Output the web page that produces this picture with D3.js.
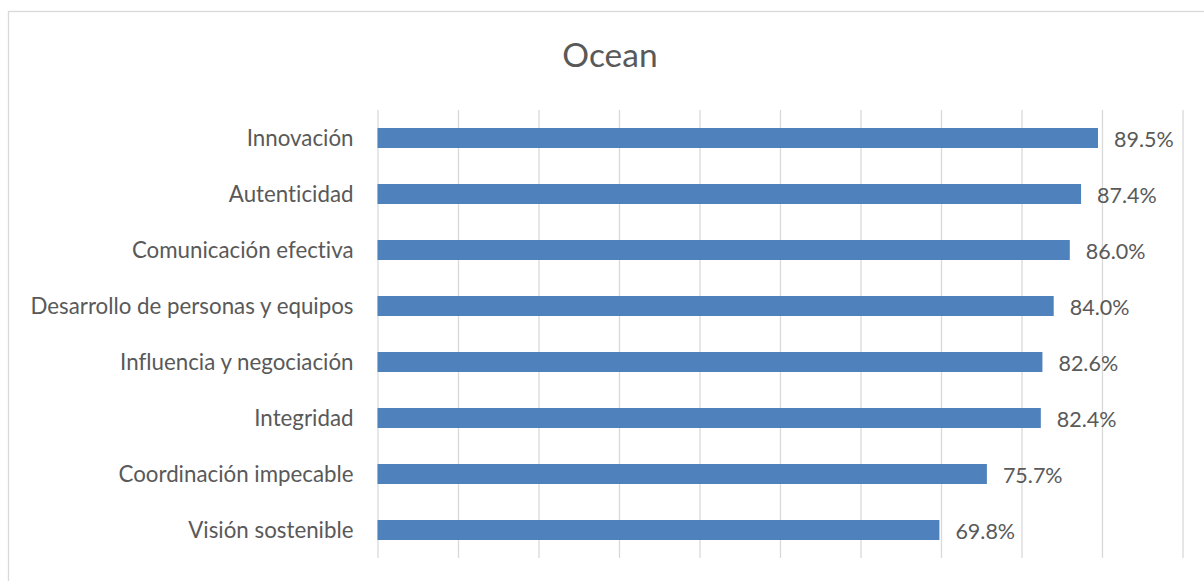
<!DOCTYPE html>
<html>
<head>
<meta charset="utf-8">
<script src="https://cdn.jsdelivr.net/npm/d3@7"></script>
<style>
  html, body { margin: 0; padding: 0; background: #ffffff; }
  svg { display: block; }
  text { font-variant-ligatures: none; }
</style>
</head>
<body>
<svg id="chart" width="1204" height="581"></svg>
<script>
// Competency scores, top to bottom
const categories = [
  "Innovación",
  "Autenticidad",
  "Comunicación efectiva",
  "Desarrollo de personas y equipos",
  "Influencia y negociación",
  "Integridad",
  "Coordinación impecable",
  "Visión sostenible"
];
const values = [89.5, 87.4, 86.0, 84.0, 82.6, 82.4, 75.7, 69.8];
const xTicks = [0, 10, 20, 30, 40, 50, 60, 70, 80, 90, 100];
const title = "Ocean";

const W = 1204, H = 581;
const margin = { top: 110, right: 21.5, bottom: 23, left: 377.5 };
const innerW = W - margin.left - margin.right;
const innerH = H - margin.top - margin.bottom;

const font = "Lato, 'Open Sans', sans-serif";
const textColor = "#595959";
const gridColor = "#d9d9d9";
const barColor = "#4f81bd";

const svg = d3.select("#chart");

// chart frame
svg.append("rect")
  .attr("x", 8.5).attr("y", 11.5)
  .attr("width", W).attr("height", H)
  .attr("fill", "#ffffff")
  .attr("stroke", gridColor)
  .attr("stroke-width", 1.3);

svg.append("text")
  .attr("x", 610).attr("y", 67)
  .attr("text-anchor", "middle")
  .attr("font-family", font)
  .attr("font-size", 33.5)
  .attr("fill", textColor)
  .text(title);

const x = d3.scaleLinear().domain([0, 100]).range([0, innerW]);
const y = d3.scaleBand()
  .domain(categories)
  .range([0, innerH])
  .paddingInner(0.643)
  .paddingOuter(0.3215);

const g = svg.append("g").attr("transform", `translate(${margin.left},${margin.top})`);

// vertical gridlines
const grid = g.append("g")
  .attr("transform", `translate(0,${innerH})`)
  .call(d3.axisBottom(x).tickValues(xTicks).tickSize(-innerH).tickFormat(""));
grid.select(".domain").remove();
grid.selectAll(".tick line")
  .attr("stroke", gridColor)
  .attr("stroke-width", 1.3);

// bars
g.selectAll("rect.bar")
  .data(values)
  .join("rect")
  .attr("class", "bar")
  .attr("x", 0)
  .attr("y", (d, i) => y(categories[i]))
  .attr("width", d => x(d))
  .attr("height", y.bandwidth())
  .attr("fill", barColor);

// category labels
g.append("g")
  .call(d3.axisLeft(y).tickSize(0).tickPadding(24))
  .call(a => a.select(".domain").remove())
  .selectAll("text")
  .attr("font-family", font)
  .attr("font-size", 22.3)
  .attr("fill", textColor)
  .attr("dy", "0.35em");

// value labels
g.selectAll("text.value")
  .data(values)
  .join("text")
  .attr("class", "value")
  .attr("x", d => x(d) + 16)
  .attr("y", (d, i) => y(categories[i]) + y.bandwidth() / 2)
  .attr("dy", "0.42em")
  .attr("font-family", font)
  .attr("font-size", 21.5)
  .attr("fill", textColor)
  .text(d => d.toFixed(1) + "%");
</script>
</body>
</html>
